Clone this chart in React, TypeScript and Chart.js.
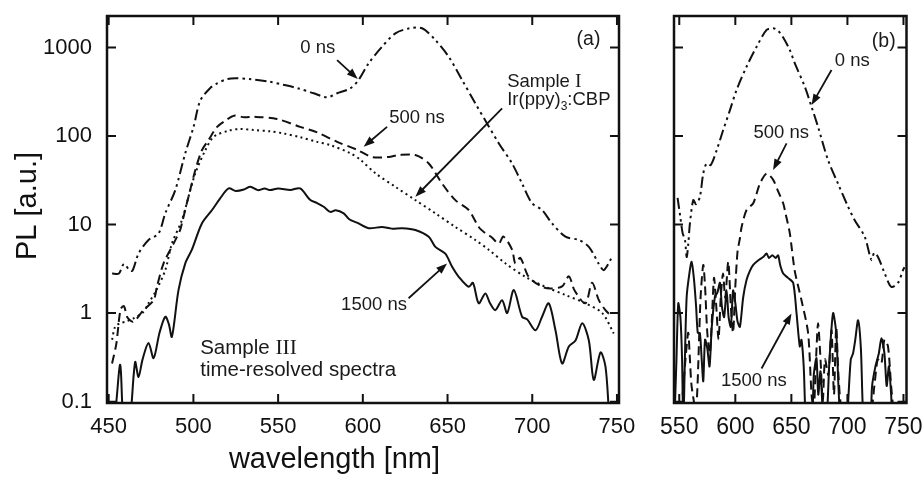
import React, { useEffect, useRef } from 'react';
import { Chart, registerables } from 'chart.js';

Chart.register(...registerables);

const SANS = '"Liberation Sans", Arial, Helvetica, sans-serif';
const SERIF = '"Liberation Serif", "Times New Roman", serif';
const INK = '#111';

// ---------- ticks ----------
const xTicksA = [450, 500, 550, 600, 650, 700, 750];
const xTicksB = [550, 600, 650, 700, 750];
const yTicks = [0.1, 1, 10, 100, 1000];
const yTickLabels = ['0.1', '1', '10', '100', '1000'];

// ---------- panel (a): Sample III, wavelength [nm] vs PL ----------
const a0ns: [number, number][] = [
  [452, 2.8], [456, 2.8], [459, 3.6], [462, 3.1], [464, 3.0], [467.6, 4.7], [473.5, 6.7], [479.4, 7.9],
  [483.4, 13.4], [489.3, 24.5], [495.2, 64], [500.1, 127], [504, 250], [510, 350], [514, 394], [520, 440],
  [525, 450], [533, 440], [545, 411], [553, 380], [562, 345], [571, 304], [578.9, 274], [584.8, 304],
  [592.6, 346], [597.5, 430], [603.4, 662], [611.3, 1020], [619.2, 1445], [627, 1640], [635, 1650],
  [642.8, 1215], [650.7, 787], [658.6, 430], [666.4, 234], [673.3, 139], [680.2, 83], [688.1, 49],
  [694, 29], [699.9, 17.4], [705.8, 14.6], [711.7, 10.3], [719.6, 7.3], [727.4, 6.7], [733.4, 5.6],
  [739.3, 3.6], [742.2, 3.06], [746.2, 4.0], [747.5, 4.5],
];
const a500ns: [number, number][] = [
  [452, 0.27], [454.5, 0.45], [457, 1.1], [459, 1.2], [461, 0.9], [464.5, 0.8], [470.5, 1.08], [476.5, 1.4],
  [478.5, 2.0], [482.4, 3.65], [488.3, 6.1], [492.2, 8.7], [493.2, 10.3], [497.1, 20.6], [501.1, 41],
  [505, 69], [508.9, 90], [514, 127], [519, 150], [524, 170], [530, 163], [535.5, 165], [549.3, 156],
  [563, 127], [573, 110], [584.8, 86], [596.6, 70], [605.4, 58], [615.3, 58], [621.1, 61], [631, 61],
  [638.9, 49], [646.8, 29], [654.6, 18.9], [662.5, 14.6], [668.4, 9.4], [672.3, 8.0], [676, 7.2],
  [680.2, 6.1], [683, 7.3], [688.1, 5.2], [690, 3.65], [693, 4.2], [697.9, 2.57], [705.8, 1.98],
  [711, 1.9], [717.6, 2.0], [721.6, 2.6], [725, 1.8], [731.4, 1.29], [735.3, 2.2], [739.3, 1.4],
  [743.2, 1.08], [746, 0.95],
];
const aSampleI: [number, number][] = [
  [452, 0.5], [453.8, 0.7], [456.8, 0.77], [460, 0.8], [464.6, 0.87], [470.5, 1.03], [473.5, 1.29],
  [478, 1.8], [483.4, 3.06], [487.3, 6.1], [493.2, 11.2], [497.1, 20.6], [501.1, 37.8], [507, 69],
  [512, 98], [520.8, 115], [527, 120], [535.5, 117], [545.4, 113], [553.2, 107], [563, 97], [573, 86],
  [580.8, 79], [592.6, 64], [598.5, 54], [607.4, 38], [619.2, 26.7], [631, 18.9], [642.8, 13.4],
  [654.6, 9.4], [666.4, 6.7], [674.3, 5.2], [684.1, 3.65], [695.9, 2.57], [707.8, 1.98], [719.6, 1.6],
  [731.4, 1.29], [741.3, 1.0], [748.1, 0.59],
];
const a1500ns: [number, number][] = [
  [452, 0.05], [454, 0.08], [456.8, 0.26], [459, 0.05], [462, 0.05], [465.6, 0.28], [467.6, 0.19],
  [470, 0.3], [473.5, 0.46], [476.5, 0.31], [480, 0.6], [483.4, 0.91], [485.5, 0.75], [487.3, 0.54],
  [491.2, 1.82], [495.2, 3.65], [499.1, 5.2], [505, 10.3], [511, 14.6], [515.8, 19.8], [520.8, 25.6],
  [525, 24], [530, 25], [533.6, 26.7], [538, 24.5], [542, 25.5], [545.4, 24.5], [550, 25.6],
  [557.2, 24.6], [563, 25.6], [569, 18.9], [573, 17.5], [576.9, 15.9], [580.8, 13.9], [584, 14.5],
  [588.7, 13.4], [592, 11.5], [596.6, 10.5], [603.4, 9.1], [611.3, 9.4], [617, 9.0], [623.1, 9.1],
  [631, 8.7], [638.9, 7.3], [642.8, 5.6], [648.7, 4.7], [652.7, 3.33], [656.6, 2.57], [662.5, 1.98],
  [665, 2.2], [668.4, 1.29], [672.3, 1.67], [675, 1.3], [678.2, 1.08], [682.2, 1.4], [685.2, 1.0],
  [689.1, 1.82], [694, 0.91], [697, 0.85], [701.9, 0.64], [705.8, 0.91], [709.7, 1.29], [713.7, 0.64],
  [717.6, 0.27], [721.6, 0.42], [725.5, 0.49], [729.5, 0.77], [733.4, 0.49], [736.3, 0.176],
  [740.3, 0.36], [743.2, 0.25], [745.2, 0.08], [746, 0.05],
];

// ---------- panel (b) ----------
const b0ns: [number, number][] = [
  [548.5, 20], [551, 12], [553, 8], [555.1, 6.7], [556.6, 4.3], [558, 6], [559.5, 10.3], [562.5, 18.9],
  [565, 17], [568.4, 20.6], [571.4, 37.8], [574.4, 49], [578, 47], [583.3, 69], [589.2, 117],
  [595.2, 196], [601.1, 331], [610, 607], [619, 1020], [627.9, 1580], [633.8, 1650], [638, 1550],
  [642.7, 1300], [648.6, 937], [653.1, 662], [662, 361], [668, 214], [673.8, 127], [682.7, 53.6],
  [691.6, 29], [700.6, 15.9], [706.5, 11.2], [715.4, 7.3], [721.4, 4.0], [724, 4.8], [727.3, 4.3],
  [733.3, 2.8], [739.2, 1.98], [745.1, 2.2], [749.6, 3.06], [751, 3.3],
];
const b500ns: [number, number][] = [
  [553, 0.12], [556, 0.35], [558, 0.6], [559.5, 0.3], [561, 0.15], [565, 0.08], [569, 1.5], [571.4, 3.5],
  [573, 2.0], [575, 0.6], [577.3, 0.35], [579, 0.8], [581, 2.5], [583, 1.2], [585, 0.5], [587, 1.5],
  [589, 2.8], [591, 1.5], [593.7, 3.8], [596, 1.2], [598, 0.6], [600, 2], [602, 5], [604.1, 7],
  [605.6, 9.4], [610, 14.6], [616, 17.4], [621.9, 29], [627.9, 37.8], [633.8, 32], [638, 24],
  [642.7, 17.4], [645, 13], [648.6, 8], [653, 3.0], [659, 1.4], [664.9, 0.6], [668, 0.12], [670, 0.08],
  [672, 0.3], [673.8, 0.77], [676, 0.3], [678, 0.1], [680, 0.3], [683, 0.2], [685.8, 0.64], [688, 0.12],
  [690, 0.7], [692, 0.2], [695, 0.08], [700, 0.08], [720, 0.08], [724, 0.15], [727, 0.3], [730.3, 0.27],
  [733, 0.5], [736.2, 0.42], [739, 0.15], [741, 0.08],
];
const b1500ns: [number, number][] = [
  [546, 0.08], [547.5, 0.3], [549.1, 1.29], [551, 0.9], [552.5, 0.3], [553.6, 0.05], [555, 0.3],
  [556.6, 1.53], [559, 2.8], [561, 3.8], [563, 2.5], [565, 1.2], [566.5, 0.6], [568.4, 0.59], [570, 0.3],
  [571.4, 0.17], [573, 0.5], [575, 0.4], [577, 0.25], [579, 0.7], [581.8, 1.53], [584, 1.7], [586.3, 2.2],
  [588, 1.2], [590, 0.9], [592.2, 1.82], [594, 0.9], [596, 0.7], [598, 1.8], [600, 1.3], [602, 0.8],
  [604.1, 0.7], [607, 1.5], [610, 2.36], [613, 3.0], [616, 3.5], [620, 3.9], [624.8, 4.3], [627.9, 4.7],
  [630, 4.2], [633, 4.5], [636, 4.2], [638.2, 4.5], [640, 3.5], [642.7, 2.8], [647, 2.5], [651.6, 2.2],
  [654.6, 1.0], [657.5, 0.42], [659, 0.5], [661, 0.25], [663.5, 0.05], [668, 0.05], [670, 0.2],
  [672.4, 0.31], [674, 0.12], [676, 0.22], [678, 0.08], [681, 0.05], [684, 0.3], [687.2, 1.0], [690, 0.6],
  [692, 0.15], [694.5, 0.05], [699, 0.05], [701, 0.12], [703, 0.3], [705, 0.35], [707, 0.5], [709.5, 0.83],
  [712, 0.4], [713.5, 0.1], [715, 0.05], [720, 0.05], [722, 0.15], [725, 0.25], [728, 0.35], [730.3, 0.52],
  [733, 0.35], [735, 0.15], [737, 0.25], [739, 0.12], [741, 0.05], [748, 0.05],
];

// ---------- line styles ----------
const STYLE_0NS = { dash: [11, 4, 2.5, 4, 2.5, 4], width: 2 };
const STYLE_500NS = { dash: [9, 5], width: 2 };
const STYLE_SAMPLEI = { dash: [2, 3.5], width: 2 };
const STYLE_1500NS = { dash: [] as number[], width: 2 };

// ---------- annotations (anchored in data coordinates) ----------
type Seg = { text: string; font: string; dy?: number };
type Ann =
  | { kind: 'text'; x: number; y: number; segs: Seg[]; align: 'left' | 'center'; baseline: CanvasTextBaseline }
  | { kind: 'arrow'; x1: number; y1: number; x2: number; y2: number };

const F_ANN = `18.5px ${SANS}`;
const F_TAG = `19.5px ${SANS}`;
const F_S3 = `20.5px ${SANS}`;

const annA: Ann[] = [
  { kind: 'text', x: 573.4, y: 986, segs: [{ text: '0 ns', font: F_ANN }], align: 'center', baseline: 'middle' },
  { kind: 'arrow', x1: 584.8, y1: 722, x2: 597.0, y2: 441 },
  { kind: 'text', x: 632.0, y: 160, segs: [{ text: '500 ns', font: F_ANN }], align: 'center', baseline: 'middle' },
  { kind: 'arrow', x1: 614.3, y1: 127, x2: 600.5, y2: 75.7 },
  { kind: 'text', x: 685.2, y: 358, segs: [{ text: 'Sample ', font: F_ANN }, { text: 'I', font: `19.5px ${SERIF}` }], align: 'left', baseline: 'alphabetic' },
  { kind: 'text', x: 685.2, y: 224, segs: [{ text: 'Ir(ppy)', font: F_ANN }, { text: '3', font: `12px ${SANS}`, dy: 5 }, { text: ':CBP', font: F_ANN }], align: 'left', baseline: 'alphabetic' },
  { kind: 'arrow', x1: 682.2, y1: 206, x2: 631.0, y2: 20.6 },
  { kind: 'text', x: 606.6, y: 1.23, segs: [{ text: '1500 ns', font: F_ANN }], align: 'center', baseline: 'middle' },
  { kind: 'arrow', x1: 627.0, y1: 1.47, x2: 649.7, y2: 3.64 },
  { kind: 'text', x: 733.2, y: 1216, segs: [{ text: '(a)', font: F_TAG }], align: 'center', baseline: 'middle' },
  { kind: 'text', x: 504.0, y: 0.344, segs: [{ text: 'Sample ', font: F_S3 }, { text: 'III', font: `21.5px ${SERIF}` }], align: 'left', baseline: 'alphabetic' },
  { kind: 'text', x: 504.0, y: 0.194, segs: [{ text: 'time-resolved spectra', font: F_S3 }], align: 'left', baseline: 'alphabetic' },
];

const annB: Ann[] = [
  { kind: 'text', x: 732.4, y: 1153, segs: [{ text: '(b)', font: F_TAG }], align: 'center', baseline: 'middle' },
  { kind: 'text', x: 704.3, y: 703, segs: [{ text: '0 ns', font: F_ANN }], align: 'center', baseline: 'middle' },
  { kind: 'arrow', x1: 685.8, y1: 557, x2: 668.0, y2: 224 },
  { kind: 'text', x: 641.0, y: 108, segs: [{ text: '500 ns', font: F_ANN }], align: 'center', baseline: 'middle' },
  { kind: 'arrow', x1: 645.7, y1: 82.8, x2: 633.7, y2: 41.3 },
  { kind: 'text', x: 616.5, y: 0.171, segs: [{ text: '1500 ns', font: F_ANN }], align: 'center', baseline: 'middle' },
  { kind: 'arrow', x1: 623.4, y1: 0.237, x2: 650.1, y2: 0.99 },
];

// ---------- plugin: frame, inward ticks, annotations, axis titles ----------
function drawRich(ctx: CanvasRenderingContext2D, segs: Seg[], x: number, y: number, align: string, baseline: CanvasTextBaseline) {
  ctx.textBaseline = baseline;
  ctx.textAlign = 'left';
  let w = 0;
  for (const s of segs) { ctx.font = s.font; w += ctx.measureText(s.text).width; }
  let cx = align === 'center' ? x - w / 2 : x;
  for (const s of segs) {
    ctx.font = s.font;
    ctx.fillText(s.text, cx, y + (s.dy || 0));
    cx += ctx.measureText(s.text).width;
  }
}

const framePlugin = {
  id: 'frameAnn',
  afterDatasetsDraw(chart: any, _args: any, opts: any) {
    const { ctx, chartArea: a, scales } = chart;
    const xs = scales.x, ys = scales.y;
    ctx.save();
    ctx.strokeStyle = INK;
    ctx.fillStyle = INK;
    const L = 9;
    ctx.lineWidth = 2;
    ctx.beginPath();
    for (const t of xs.ticks) {
      const px = xs.getPixelForValue(t.value);
      ctx.moveTo(px, a.bottom); ctx.lineTo(px, a.bottom - L);
      ctx.moveTo(px, a.top); ctx.lineTo(px, a.top + L);
    }
    for (const t of ys.ticks) {
      const py = ys.getPixelForValue(t.value);
      ctx.moveTo(a.left, py); ctx.lineTo(a.left + L, py);
      ctx.moveTo(a.right, py); ctx.lineTo(a.right - L, py);
    }
    ctx.stroke();
    ctx.lineWidth = opts.frameWidth || 2.5;
    ctx.strokeRect(a.left, a.top, a.right - a.left, a.bottom - a.top);
    const anns: Ann[] = opts.anns || [];
    for (const an of anns) {
      if (an.kind === 'text') {
        ctx.fillStyle = '#1a1a1a';
        drawRich(ctx, an.segs, xs.getPixelForValue(an.x), ys.getPixelForValue(an.y), an.align, an.baseline);
      } else {
        const x1 = xs.getPixelForValue(an.x1), y1 = ys.getPixelForValue(an.y1);
        const x2 = xs.getPixelForValue(an.x2), y2 = ys.getPixelForValue(an.y2);
        const ang = Math.atan2(y2 - y1, x2 - x1);
        const hl = 11, hw = 4;
        ctx.lineWidth = 1.8;
        ctx.beginPath();
        ctx.moveTo(x1, y1);
        ctx.lineTo(x2 - Math.cos(ang) * hl * 0.8, y2 - Math.sin(ang) * hl * 0.8);
        ctx.stroke();
        ctx.beginPath();
        ctx.moveTo(x2, y2);
        ctx.lineTo(x2 - Math.cos(ang) * hl - Math.sin(ang) * hw, y2 - Math.sin(ang) * hl + Math.cos(ang) * hw);
        ctx.lineTo(x2 - Math.cos(ang) * hl + Math.sin(ang) * hw, y2 - Math.sin(ang) * hl - Math.cos(ang) * hw);
        ctx.closePath();
        ctx.fillStyle = INK;
        ctx.fill();
      }
    }
    if (opts.xTitle) {
      ctx.fillStyle = INK;
      ctx.font = `29px ${SANS}`;
      ctx.textAlign = 'center';
      ctx.textBaseline = 'alphabetic';
      ctx.fillText(opts.xTitle, opts.xTitleX, opts.xTitleY);
    }
    if (opts.yTitle) {
      ctx.save();
      ctx.fillStyle = INK;
      ctx.font = `29px ${SANS}`;
      ctx.translate(opts.yTitleX, opts.yTitleY);
      ctx.rotate(-Math.PI / 2);
      ctx.textAlign = 'center';
      ctx.textBaseline = 'middle';
      ctx.fillText(opts.yTitle, 0, 0);
      ctx.restore();
    }
    ctx.restore();
  },
};

type Series = { pts: [number, number][]; style: { dash: number[]; width: number }; tension: number };

function makeConfig(p: {
  series: Series[]; xMin: number; xMax: number; xTicks: number[]; xFont: number;
  showY: boolean; yWidth: number; padRight: number; anns: Ann[]; titles: boolean;
}): any {
  return {
    type: 'line',
    data: {
      datasets: p.series.map((s) => ({
        data: s.pts.map(([x, y]) => ({ x, y })),
        borderColor: INK,
        borderWidth: s.style.width,
        borderDash: s.style.dash,
        borderCapStyle: 'butt',
        borderJoinStyle: 'round',
        pointRadius: 0,
        tension: s.tension,
        fill: false,
      })),
    },
    options: {
      responsive: false,
      maintainAspectRatio: false,
      animation: false,
      events: [],
      layout: { padding: { top: 16, right: p.padRight, left: 0, bottom: 0 } },
      plugins: {
        legend: { display: false },
        tooltip: { enabled: false },
        title: { display: false },
        frameAnn: {
          anns: p.anns,
          frameWidth: 2.5,
          xTitle: p.titles ? 'wavelength [nm]' : null,
          xTitleX: 334.5,
          xTitleY: 468,
          yTitle: p.titles ? 'PL [a.u.]' : null,
          yTitleX: 28,
          yTitleY: 206,
        },
      },
      scales: {
        x: {
          type: 'linear',
          min: p.xMin,
          max: p.xMax,
          afterBuildTicks: (s: any) => { s.ticks = p.xTicks.map((v) => ({ value: v })); },
          afterFit: (s: any) => { s.height = 75; s.paddingLeft = 0; s.paddingRight = 0; },
          grid: { display: false, drawTicks: false },
          border: { display: false },
          ticks: {
            autoSkip: false, maxRotation: 0, padding: 11, color: INK,
            font: { size: p.xFont, family: SANS },
            callback: (v: any) => String(v),
          },
        },
        y: {
          type: 'logarithmic',
          min: 0.0965,
          max: 2270,
          afterBuildTicks: (s: any) => { s.ticks = yTicks.map((v) => ({ value: v })); },
          afterFit: (s: any) => { s.width = p.yWidth; s.paddingTop = 0; s.paddingBottom = 0; },
          grid: { display: false, drawTicks: false },
          border: { display: false },
          ticks: {
            display: p.showY, autoSkip: false, padding: 15, color: INK,
            font: { size: 22, family: SANS },
            callback: (v: any) => {
              const i = yTicks.findIndex((t) => Math.abs(t - v) < 1e-9 * Math.max(1, t));
              return i >= 0 ? yTickLabels[i] : '';
            },
          },
        },
      },
    },
    plugins: [framePlugin],
  };
}

function ChartCanvas({ config, left, width }: { config: any; left: number; width: number }) {
  const ref = useRef<HTMLCanvasElement | null>(null);
  useEffect(() => {
    if (!ref.current) return;
    const chart = new Chart(ref.current, config);
    return () => chart.destroy();
  }, []);
  return (
    <canvas
      ref={ref}
      width={width}
      height={478}
      style={{ position: 'absolute', left, top: 0, width, height: 478 }}
    />
  );
}

export default function App() {
  const cfgA = makeConfig({
    series: [
      { pts: a0ns, style: STYLE_0NS, tension: 0.3 },
      { pts: a500ns, style: STYLE_500NS, tension: 0.3 },
      { pts: aSampleI, style: STYLE_SAMPLEI, tension: 0.3 },
      { pts: a1500ns, style: STYLE_1500NS, tension: 0.3 },
    ],
    xMin: 449, xMax: 751.2, xTicks: xTicksA, xFont: 22,
    showY: true, yWidth: 107, padRight: 21, anns: annA, titles: true,
  });
  const cfgB = makeConfig({
    series: [
      { pts: b0ns, style: STYLE_0NS, tension: 0.3 },
      { pts: b500ns, style: STYLE_500NS, tension: 0.25 },
      { pts: b1500ns, style: STYLE_1500NS, tension: 0.25 },
    ],
    xMin: 545.3, xMax: 752.7, xTicks: xTicksB, xFont: 23,
    showY: false, yWidth: 34, padRight: 16.5, anns: annB, titles: false,
  });
  return (
    <div style={{ position: 'absolute', left: 0, top: 0, width: 923, height: 478, background: '#fff', overflow: 'hidden' }}>
      <ChartCanvas config={cfgA} left={0} width={640} />
      <ChartCanvas config={cfgB} left={640} width={283} />
    </div>
  );
}
